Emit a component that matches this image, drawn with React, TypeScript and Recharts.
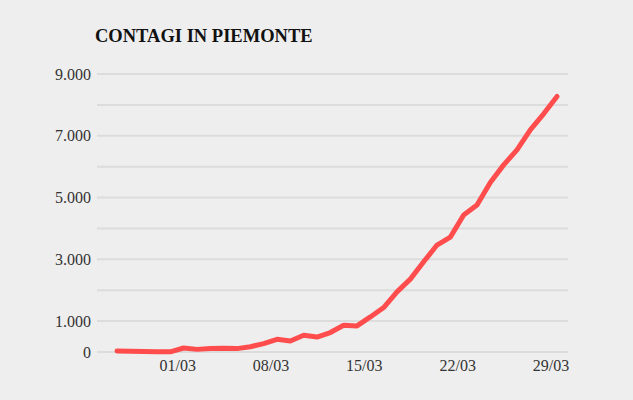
import React from 'react';
import { LineChart, Line, XAxis, YAxis, CartesianGrid } from 'recharts';

const dates = [
  '25/02', '26/02', '27/02', '28/02', '29/02',
  '01/03', '02/03', '03/03', '04/03', '05/03', '06/03', '07/03',
  '08/03', '09/03', '10/03', '11/03', '12/03', '13/03', '14/03',
  '15/03', '16/03', '17/03', '18/03', '19/03', '20/03', '21/03',
  '22/03', '23/03', '24/03', '25/03', '26/03', '27/03', '28/03', '29/03',
];

const contagi = [
  30, 25, 20, 12, 5,
  130, 85, 110, 120, 110, 170, 270,
  410, 355, 540, 485, 630, 865, 845,
  1135, 1440, 1945, 2360, 2920, 3462, 3720,
  4435, 4760, 5490, 6058, 6544, 7193, 7712, 8274,
];

const xTicks = ['01/03', '08/03', '15/03', '22/03', '29/03'];
const yTicks = [0, 1000, 2000, 3000, 4000, 5000, 6000, 7000, 8000, 9000];
const yLabelled = [0, 1000, 3000, 5000, 7000, 9000];

const data = dates.map((d, i) => ({ date: d, value: contagi[i] }));

const fmtY = (v: number) => {
  if (!yLabelled.includes(v)) return '';
  if (v === 0) return '0';
  return String(v).replace(/\B(?=(\d{3})+(?!\d))/g, '.');
};

const XTick = (props: any) => {
  const { x, y, payload } = props;
  return (
    <text
      x={x - 6}
      y={y}
      dy="0.71em"
      textAnchor="middle"
      fill="#333"
      fontSize={16}
      fontFamily="'Liberation Serif', serif"
    >
      {payload.value}
    </text>
  );
};

export default function App() {
  return (
    <div
      style={{
        position: 'absolute',
        left: 0,
        top: 0,
        width: 633,
        height: 400,
        background: '#eeeeee',
      }}
    >
      <div
        style={{
          position: 'absolute',
          left: 95,
          top: 26,
          fontFamily: "'Liberation Serif', serif",
          fontWeight: 'bold',
          fontSize: 18.5,
          color: '#111',
          whiteSpace: 'nowrap',
        }}
      >
        CONTAGI IN PIEMONTE
      </div>
      <LineChart
        width={633}
        height={400}
        data={data}
        margin={{ top: 74, right: 65, bottom: 18, left: 0 }}
        style={{ position: 'absolute', left: 0, top: 0 }}
      >
        <CartesianGrid vertical={false} stroke="#dcdcdc" strokeWidth={2} />
        <XAxis
          dataKey="date"
          ticks={xTicks}
          interval={0}
          axisLine={false}
          tickLine={false}
          tick={<XTick />}
          height={30}
          padding={{ left: 20, right: 11 }}
        />
        <YAxis
          domain={[0, 9000]}
          ticks={yTicks}
          interval={0}
          tickFormatter={fmtY}
          axisLine={false}
          tickLine={false}
          tickSize={0}
          tickMargin={6}
          width={97}
          tick={{ fill: '#333', fontSize: 16, fontFamily: "'Liberation Serif', serif" }}
        />
        <Line
          type="linear"
          dataKey="value"
          stroke="#ff4d4d"
          strokeWidth={5}
          strokeLinecap="round"
          strokeLinejoin="round"
          dot={false}
          isAnimationActive={false}
        />
      </LineChart>
    </div>
  );
}
